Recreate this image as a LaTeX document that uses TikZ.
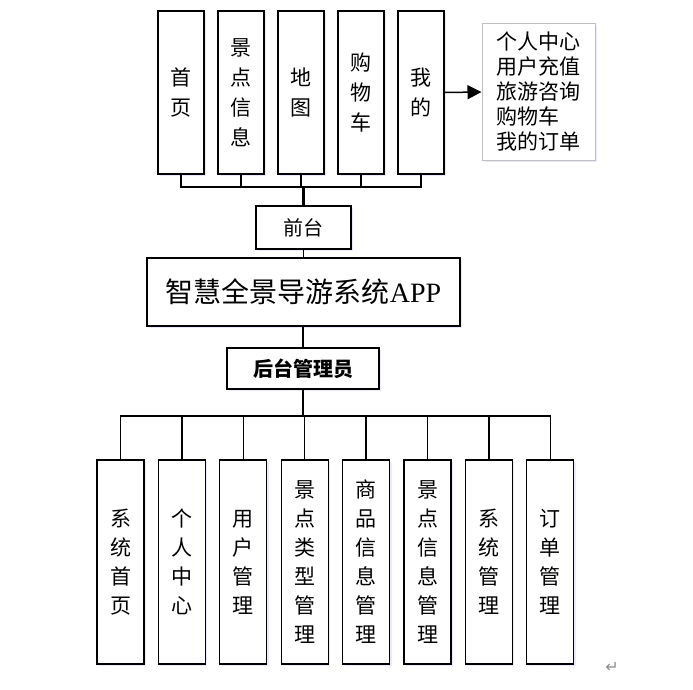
\documentclass[tikz,border=0pt]{standalone}
\usepackage{fontspec}
\setmainfont{Liberation Serif}
\newfontfamily\cjk{Noto Sans CJK SC}
\newfontfamily\symf{DejaVu Sans}
\usetikzlibrary{arrows.meta,shadows}
\begin{document}
\begin{tikzpicture}[x=1pt,y=-1pt,
  shad/.style={drop shadow={fill=blue!10,opacity=0.8,shadow xshift=2pt,shadow yshift=-2pt}},
  bx/.style={draw,line width=1.2pt,fill=white,shad,inner sep=0pt,align=center},
  vbox/.style={bx,minimum width=46,font=\cjk\fontsize{21}{30}\selectfont},
  conn/.style={line width=1.5pt},
  trunk/.style={line width=2.2pt}]
\useasboundingbox (0,0) rectangle (693,690);
% top modules
\node[vbox,minimum height=163] (t1) at (181,92.5) {首\\页};
\node[vbox,minimum height=163] (t2) at (241,92.5) {景\\点\\信\\息};
\node[vbox,minimum height=163] (t3) at (301,92.5) {地\\图};
\node[vbox,minimum height=163] (t4) at (361,92.5) {购\\物\\车};
\node[vbox,minimum height=163] (t5) at (421,92.5) {我\\的};
\node[draw=black!25,line width=1pt,fill=white,shad,minimum width=113,minimum height=136,inner sep=0pt,
      align=left,font=\cjk\fontsize{21}{25}\selectfont] (rb) at (538.5,92) {个人中心\\用户充值\\旅游咨询\\购物车\\我的订单};
\draw[conn,-{Triangle[length=14pt,width=14pt]}] (t5.east) -- (rb.west);
% front/back
\node[bx,minimum width=95,minimum height=43,font=\cjk\fontsize{20}{24}\selectfont] (qt) at (303.5,227.5) {前台};
\node[bx,minimum width=313,minimum height=68,font=\fontsize{28}{32}\selectfont] (app) at (303.5,292) {{\cjk 智慧全景导游系统}APP};
\node[bx,minimum width=152,minimum height=41,font=\cjk\bfseries\fontsize{20}{24}\selectfont] (ht) at (303,368.5) {后台管理员};
\coordinate (tb) at (303,187);
\draw[conn] (t1.south) -- (t1.south |- tb) -- (t5.south |- tb) -- (t5.south);
\foreach \n in {t2,t3,t4} \draw[conn] (\n.south) -- (\n.south |- tb);
\draw[trunk] (qt.north) -- (qt.north |- tb);
\draw[conn] (qt.south) -- (app.north -| qt.south);
\draw[conn] (app.south -| ht.north) -- (ht.north);
% bottom modules
\foreach \i/\t in {1/{系\\统\\首\\页},2/{个\\人\\中\\心},3/{用\\户\\管\\理},4/{景\\点\\类\\型\\管\\理},5/{商\\品\\信\\息\\管\\理},6/{景\\点\\信\\息\\管\\理},7/{系\\统\\管\\理},8/{订\\单\\管\\理}}
  \node[bx,minimum width=47,minimum height=204,font=\cjk\fontsize{21}{29}\selectfont] (b\i) at ({120.5+61.4*(\i-1)},562) {\t};
\coordinate (bb) at (303,416);
\draw[conn] (b1.north) -- (b1.north |- bb) -- (b8.north |- bb) -- (b8.north);
\foreach \n in {b2,b3,b4,b5,b6,b7} \draw[conn] (\n.north) -- (\n.north |- bb);
\draw[trunk] (ht.south) -- (ht.south |- bb);
\node[font=\symf\fontsize{16}{16}\selectfont,text=black!45] (pm) at (612,667) {↵};
\end{tikzpicture}
\end{document}
